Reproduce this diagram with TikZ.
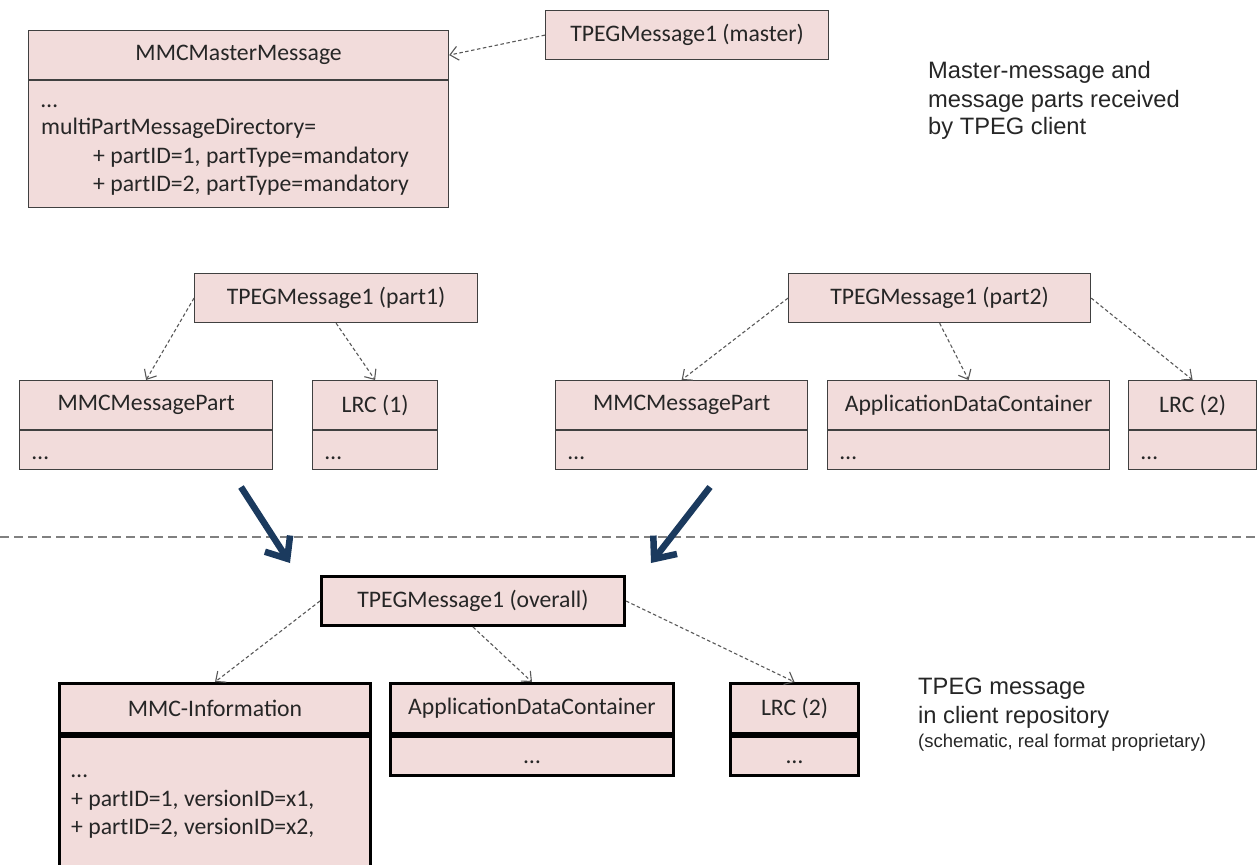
\documentclass[tikz,border=0pt]{standalone}
\usepackage{fontspec}
\setmainfont{Carlito}
\newfontfamily\arialfont{Liberation Sans}
\usetikzlibrary{arrows.meta}
\definecolor{boxfill}{HTML}{F2DCDB}
\definecolor{boxline}{HTML}{404040}
\definecolor{navy}{HTML}{1B3A5E}
\definecolor{txt}{HTML}{262626}
\definecolor{sep}{HTML}{808080}
\begin{document}
\begin{tikzpicture}[x=1pt,y=-1pt,
  umlbox/.style={draw=boxline, line width=1.2pt, fill=boxfill, inner sep=0pt, anchor=north west,
    font=\fontsize{23.7}{28}\selectfont, text=txt},
  umlboxb/.style={umlbox, draw=black, line width=3pt},
  bodytext/.style={inner sep=0pt, font=\fontsize{23.7}{28}\selectfont, text=txt},
  sidetext/.style={inner sep=0pt, anchor=base west, font=\arialfont\fontsize{23.7}{28}\selectfont, text=txt},
  dep/.style={draw=black!65, line width=1.1pt, dash pattern=on 3.5pt off 2.5pt,
    -{Straight Barb[length=8pt,width=14pt]}},
  bigarrow/.style={draw=navy, line width=6.5pt, -{Straight Barb[length=18pt,width=30pt]}},
  sepline/.style={draw=sep, line width=1.5pt, dash pattern=on 9pt off 5pt}
]
\useasboundingbox (0,0) rectangle (1257,864);
\fill[white] (0,0) rectangle (1257,864);

% ---- top: master message ----
\node[umlbox, minimum width=420pt, minimum height=49pt] (mm) at (28,30) {MMCMasterMessage};
\node[umlbox, minimum width=420pt, minimum height=127pt] (mmb) at (mm.south west) {};
\node[bodytext, anchor=base west] (mm1) at (41,107) {…};
\node[bodytext, anchor=base west] (mm2) at (41,135) {multiPartMessageDirectory=};
\node[bodytext, anchor=base west] (mm3) at (93,163) {+ partID=1, partType=mandatory};
\node[bodytext, anchor=base west] (mm4) at (93,191) {+ partID=2, partType=mandatory};

\node[umlbox, minimum width=283pt, minimum height=49pt] (master) at (545,10) {TPEGMessage1 (master)};
\draw[dep] (master.west) -- (mm.east);

\node[sidetext] (s1) at (928,79) {Master-message and};
\node[sidetext] (s2) at (928,107) {message parts received};
\node[sidetext] (s3) at (928,135) {by TPEG client};

% ---- middle: parts ----
\node[umlbox, minimum width=283pt, minimum height=49pt] (p1) at (194,273) {TPEGMessage1 (part1)};
\node[umlbox, minimum width=302pt, minimum height=49pt] (p2) at (788,273) {TPEGMessage1 (part2)};

\node[umlbox, minimum width=253pt, minimum height=49pt] (mp1) at (19,380) {MMCMessagePart};
\node[umlbox, minimum width=253pt, minimum height=39pt] (mp1b) at (mp1.south west) {};
\node[bodytext, anchor=base west] (mp1t) at ([xshift=13pt,yshift=11pt]mp1b.south west) {…};

\node[umlbox, minimum width=125pt, minimum height=49pt] (lrc1) at (312,380) {LRC (1)};
\node[umlbox, minimum width=125pt, minimum height=39pt] (lrc1b) at (lrc1.south west) {};
\node[bodytext, anchor=base west] (lrc1t) at ([xshift=13pt,yshift=11pt]lrc1b.south west) {…};

\node[umlbox, minimum width=252pt, minimum height=49pt] (mp2) at (555,380) {MMCMessagePart};
\node[umlbox, minimum width=252pt, minimum height=39pt] (mp2b) at (mp2.south west) {};
\node[bodytext, anchor=base west] (mp2t) at ([xshift=13pt,yshift=11pt]mp2b.south west) {…};

\node[umlbox, minimum width=282pt, minimum height=49pt] (adc1) at (827,380) {ApplicationDataContainer};
\node[umlbox, minimum width=282pt, minimum height=39pt] (adc1b) at (adc1.south west) {};
\node[bodytext, anchor=base west] (adc1t) at ([xshift=13pt,yshift=11pt]adc1b.south west) {…};

\node[umlbox, minimum width=128pt, minimum height=49pt] (lrc2) at (1128,380) {LRC (2)};
\node[umlbox, minimum width=128pt, minimum height=39pt] (lrc2b) at (lrc2.south west) {};
\node[bodytext, anchor=base west] (lrc2t) at ([xshift=13pt,yshift=11pt]lrc2b.south west) {…};

\draw[dep] (p1.west) -- (mp1.north);
\draw[dep] (p1.south) -- (lrc1.north);
\draw[dep] (p2.west) -- (mp2.north);
\draw[dep] (p2.south) -- (adc1.north);
\draw[dep] (p2.east) -- (lrc2.north);

% ---- separator and big arrows ----
\coordinate (sepL) at (0,537);
\coordinate (sepR) at (1257,537);
\draw[sepline] (sepL) -- (sepR);

\coordinate (a1s) at (241,487);
\coordinate (a1e) at (290,563);
\coordinate (a2s) at (710,487);
\coordinate (a2e) at (651,563);
\draw[bigarrow] (a1s) -- (a1e);
\draw[bigarrow] (a2s) -- (a2e);

% ---- bottom: client repository ----
\node[umlboxb, minimum width=303pt, minimum height=49pt] (ov) at (320,575) {TPEGMessage1 (overall)};

\begin{scope}
\clip (0,0) rectangle (1257,864);
\node[umlboxb, minimum width=311pt, minimum height=50pt] (mi) at (58,682) {MMC-Information};
\node[umlboxb, minimum width=311pt, minimum height=150pt] (mib) at (mi.south west) {};
\end{scope}
\node[bodytext, anchor=base west] (mi1) at (71,777) {…};
\node[bodytext, anchor=base west] (mi2) at (71,806) {+ partID=1, versionID=x1,};
\node[bodytext, anchor=base west] (mi3) at (71,834) {+ partID=2, versionID=x2,};

\node[umlboxb, minimum width=283pt, minimum height=50pt] (adc2) at (389,682) {ApplicationDataContainer};
\node[umlboxb, minimum width=283pt, minimum height=39pt] (adc2b) at (adc2.south west) {};
\node[bodytext, anchor=base] (adc2t) at ([yshift=14pt]adc2b.south) {…};

\node[umlboxb, minimum width=128pt, minimum height=50pt] (lrc3) at (729,682) {LRC (2)};
\node[umlboxb, minimum width=128pt, minimum height=39pt] (lrc3b) at (lrc3.south west) {};
\node[bodytext, anchor=base] (lrc3t) at ([yshift=14pt]lrc3b.south) {…};

\draw[dep] (ov.west) -- (mi.north);
\draw[dep] (ov.south) -- (adc2.north);
\draw[dep] (ov.east) -- (lrc3.north);

\node[sidetext] (b1) at (918,694) {TPEG message};
\node[sidetext] (b2) at (918,723) {in client repository};
\node[sidetext, font=\arialfont\fontsize{18.5}{22}\selectfont] (b3) at (918,747) {(schematic, real format proprietary)};
\end{tikzpicture}
\end{document}
